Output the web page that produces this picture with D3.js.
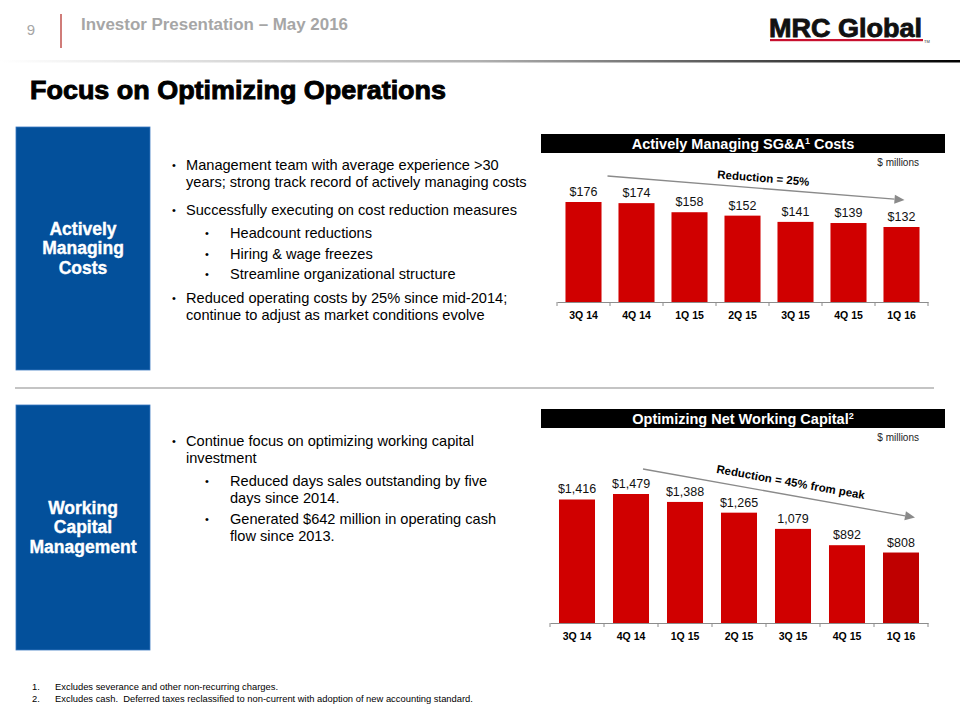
<!DOCTYPE html>
<html>
<head>
<meta charset="utf-8">
<script src="https://cdn.jsdelivr.net/npm/d3@7"></script>
<style>
  html, body { margin: 0; padding: 0; background: #fff; }
  svg { display: block; font-family: "Liberation Sans", Arial, sans-serif; }
</style>
</head>
<body>
<svg id="slide" width="960" height="720"></svg>
<script>
// ---------- data ----------
const quarters = ["3Q 14", "4Q 14", "1Q 15", "2Q 15", "3Q 15", "4Q 15", "1Q 16"];
const sgaValues = [176, 174, 158, 152, 141, 139, 132];
const sgaLabels = ["$176", "$174", "$158", "$152", "$141", "$139", "$132"];
const nwcValues = [1416, 1479, 1388, 1265, 1079, 892, 808];
const nwcLabels = ["$1,416", "$1,479", "$1,388", "$1,265", "1,079", "$892", "$808"];

const topBullets = [
  { lvl: 0, lines: ["Management team with average experience >30", "years; strong track record of actively managing costs"] },
  { lvl: 0, lines: ["Successfully executing on cost reduction measures"] },
  { lvl: 1, lines: ["Headcount reductions"] },
  { lvl: 1, lines: ["Hiring & wage freezes"] },
  { lvl: 1, lines: ["Streamline organizational structure"] },
  { lvl: 0, lines: ["Reduced operating costs by 25% since mid-2014;", "continue to adjust as market conditions evolve"] }
];
const bottomBullets = [
  { lvl: 0, lines: ["Continue focus on optimizing working capital", "investment"] },
  { lvl: 1, lines: ["Reduced days sales outstanding by five", "days since 2014."] },
  { lvl: 1, lines: ["Generated $642 million in operating cash", "flow since 2013."] }
];
const footnotes = [
  ["1.", "Excludes severance and other non-recurring charges."],
  ["2.", "Excludes cash.\u00a0 Deferred taxes reclassified to non-current with adoption of new accounting standard."]
];

const RED = "#d00000";
const BLUE = "#03509b";

const svg = d3.select("#slide");
const defs = svg.append("defs");

// ---------- header ----------
const grad = defs.append("linearGradient").attr("id", "hdrGrad").attr("x1", "0%").attr("x2", "100%");
grad.append("stop").attr("offset", "0%").attr("stop-color", "#ffffff");
grad.append("stop").attr("offset", "50%").attr("stop-color", "#b0b0b0");
grad.append("stop").attr("offset", "100%").attr("stop-color", "#000000");
svg.append("rect").attr("x", 0).attr("y", 60).attr("width", 960).attr("height", 2.5).attr("fill", "url(#hdrGrad)");

svg.append("text").attr("x", 31).attr("y", 35).attr("text-anchor", "middle")
  .attr("font-size", 15).attr("fill", "#a6a6a6").text("9");
svg.append("line").attr("x1", 61).attr("x2", 61).attr("y1", 14).attr("y2", 48)
  .attr("stroke", "#c0504d").attr("stroke-width", 1.5);
svg.append("text").attr("x", 81).attr("y", 30).attr("font-size", 16).attr("font-weight", "bold")
  .attr("fill", "#a6a6a6").attr("textLength", 267).attr("lengthAdjust", "spacingAndGlyphs")
  .text("Investor Presentation – May 2016");

// logo
svg.append("text").attr("x", 769).attr("y", 37).attr("font-size", 25).attr("font-weight", "bold")
  .attr("fill", "#111").attr("stroke", "#111").attr("stroke-width", 0.8)
  .attr("textLength", 153).attr("lengthAdjust", "spacingAndGlyphs").text("MRC Global");
svg.append("rect").attr("x", 770).attr("y", 39).attr("width", 153).attr("height", 2.2).attr("fill", "#c8102e");
svg.append("text").attr("x", 924).attr("y", 43).attr("font-size", 4).attr("fill", "#333").text("TM");

// title
svg.append("text").attr("x", 30).attr("y", 99).attr("font-size", 25).attr("font-weight", "bold")
  .attr("fill", "#000").attr("stroke", "#000").attr("stroke-width", 0.9)
  .attr("textLength", 416).attr("lengthAdjust", "spacingAndGlyphs")
  .text("Focus on Optimizing Operations");

// ---------- side boxes ----------
function sideBox(y0, y1, lines, cy) {
  svg.append("rect").attr("x", 16).attr("y", y0).attr("width", 134).attr("height", y1 - y0)
    .attr("fill", BLUE).attr("stroke", "#3a78c0").attr("stroke-width", 0.8);
  const t = svg.append("text").attr("text-anchor", "middle").attr("font-size", 17.5)
    .attr("font-weight", "bold").attr("fill", "#fff").attr("stroke", "#fff").attr("stroke-width", 0.35);
  lines.forEach((l, i) => {
    t.append("tspan").attr("x", 83).attr("y", cy + (i - (lines.length - 1) / 2) * 19.5 + 6).text(l);
  });
}
sideBox(127, 370, ["Actively", "Managing", "Costs"], 248);
sideBox(405, 650, ["Working", "Capital", "Management"], 527);

// separator
svg.append("rect").attr("x", 15).attr("y", 387).attr("width", 919).attr("height", 2).attr("fill", "#c4c4c4");

// ---------- bullets ----------
function bullets(items, y0) {
  let y = y0;
  items.forEach((it, idx) => {
    const bx = it.lvl === 0 ? 174 : 207;
    const tx = it.lvl === 0 ? 186 : 230;
    svg.append("text").attr("x", bx).attr("y", y - 1).attr("font-size", 11).attr("fill", "#000")
      .attr("text-anchor", "middle").text("•");
    it.lines.forEach((l, i) => {
      svg.append("text").attr("x", tx).attr("y", y + i * 17).attr("font-size", 14.6)
        .attr("fill", "#000").text(l);
    });
    y += (it.lines.length - 1) * 17;
    const next = items[idx + 1];
    if (next) y += (next.lvl === 1 && it.lvl === 1) ? 20.5 : (next.lvl === 1 ? 23 : (it.lvl === 1 ? 24 : 28));
  });
}
bullets(topBullets, 170);
bullets(bottomBullets, 446);

// ---------- charts ----------
function chart(opts) {
  const { values, labels, title, supTitle, range, baseY, maxPx, barY, arrow, note, lastColor } = opts;
  // title bar
  svg.append("rect").attr("x", 541).attr("y", barY).attr("width", 404).attr("height", 19).attr("fill", "#000");
  const tt = svg.append("text").attr("x", 743).attr("y", barY + 15).attr("text-anchor", "middle")
    .attr("font-size", 14.5).attr("font-weight", "bold").attr("fill", "#fff");
  tt.append("tspan").text(title[0]);
  tt.append("tspan").attr("font-size", 9).attr("dy", -5).text(supTitle);
  tt.append("tspan").attr("dy", 5).text(title[1]);
  svg.append("text").attr("x", 919).attr("y", barY + 32).attr("text-anchor", "end")
    .attr("font-size", 10).attr("fill", "#222").text("$ millions");

  const x = d3.scaleBand().domain(quarters).range(range).paddingInner(opts.pad).paddingOuter(opts.pad / 2);
  const y = d3.scaleLinear().domain([0, d3.max(values)]).range([baseY, baseY - maxPx]);

  const g = svg.append("g");
  g.selectAll("rect.bar").data(values).join("rect").attr("class", "bar")
    .attr("x", (d, i) => x(quarters[i])).attr("width", x.bandwidth())
    .attr("y", d => y(d)).attr("height", d => baseY - y(d))
    .attr("fill", (d, i) => (lastColor && i === values.length - 1) ? lastColor : RED);
  g.selectAll("text.val").data(values).join("text").attr("class", "val")
    .attr("x", (d, i) => x(quarters[i]) + x.bandwidth() / 2).attr("y", d => y(d) - 6)
    .attr("text-anchor", "middle").attr("font-size", 12.5).attr("fill", "#111")
    .text((d, i) => labels[i]);

  const ax = svg.append("g").attr("transform", `translate(0,${baseY})`)
    .call(d3.axisBottom(x).tickSize(0).tickPadding(10));
  ax.select(".domain").attr("stroke", "#8c8c8c").attr("stroke-width", 1);
  ax.selectAll(".tick text").attr("font-family", "Liberation Sans, Arial, sans-serif")
    .attr("font-size", 10.5).attr("font-weight", "bold").attr("fill", "#000");
  const bounds = quarters.map(q => x(q) - x.step() * x.paddingInner() / 2).concat([range[1]]);
  svg.append("g").selectAll("line").data(bounds).join("line")
    .attr("x1", d => d).attr("x2", d => d).attr("y1", baseY).attr("y2", baseY + 4)
    .attr("stroke", "#8c8c8c");

  // trend arrow
  const c = q => x(q) + x.bandwidth() / 2;
  const x1 = c(quarters[1]) + arrow.dx1, y1 = y(values[arrow.i1]) + arrow.dy1;
  const x2 = c(quarters[6]) + arrow.dx2, y2 = y(values[6]) + arrow.dy2;
  const ang = Math.atan2(y2 - y1, x2 - x1);
  const hl = 10, hw = 4.5;
  const xe = x2 - hl * Math.cos(ang), ye = y2 - hl * Math.sin(ang);
  svg.append("line").attr("x1", x1).attr("y1", y1).attr("x2", xe).attr("y2", ye)
    .attr("stroke", "#8a8a8a").attr("stroke-width", 1.3);
  svg.append("path").attr("d", `M${x2},${y2}L${xe - hw * Math.sin(ang)},${ye + hw * Math.cos(ang)}L${xe + hw * Math.sin(ang)},${ye - hw * Math.cos(ang)}Z`)
    .attr("fill", "#8a8a8a");
  svg.append("text").attr("transform", `translate(${note.x},${note.y}) rotate(${ang * 180 / Math.PI})`)
    .attr("text-anchor", "middle").attr("font-size", 11.5).attr("font-weight", "bold")
    .attr("fill", "#000").text(note.text);
}

chart({
  values: sgaValues, labels: sgaLabels, title: ["Actively Managing SG&A", " Costs"], supTitle: "1",
  range: [557, 928], pad: 0.32, baseY: 302, maxPx: 100, barY: 134,
  arrow: { i1: 0, dx1: -29, dy1: -26, dx2: 3, dy2: -27 },
  note: { x: 763, y: 182, text: "Reduction = 25%" }
});
chart({
  values: nwcValues, labels: nwcLabels, title: ["Optimizing Net Working Capital", ""], supTitle: "2",
  range: [550, 928], pad: 0.333, baseY: 623, maxPx: 129, barY: 409,
  arrow: { i1: 1, dx1: 12, dy1: -25, dx2: 14, dy2: -35 }, lastColor: "#bf0000",
  note: { x: 790, y: 486, text: "Reduction = 45% from peak" }
});

// ---------- footnotes ----------
footnotes.forEach((f, i) => {
  svg.append("text").attr("x", 32).attr("y", 690 + i * 12).attr("font-size", 9.4).attr("fill", "#000").text(f[0]);
  svg.append("text").attr("x", 55).attr("y", 690 + i * 12).attr("font-size", 9.4).attr("fill", "#000").text(f[1]);
});
</script>
</body>
</html>
